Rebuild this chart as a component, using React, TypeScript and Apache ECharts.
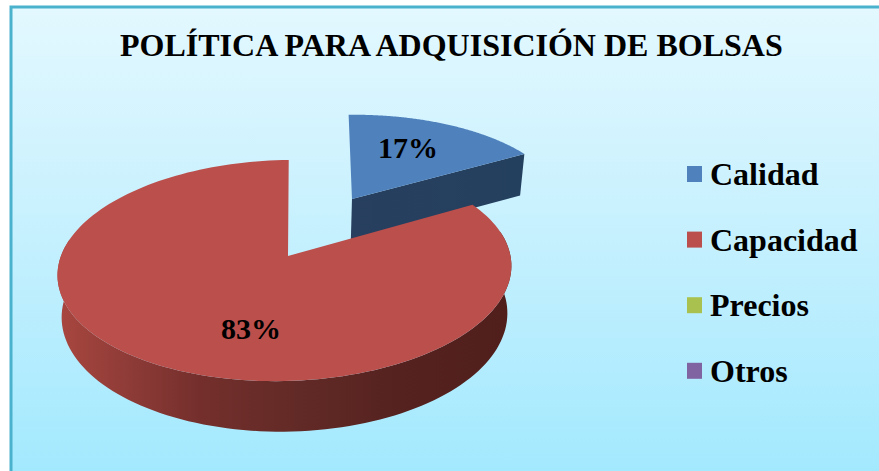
import React, { useEffect, useRef } from "react";
import * as echarts from "echarts";

const titleText = "POLÍTICA PARA ADQUISICIÓN DE BOLSAS";
const categories = ["Calidad", "Capacidad", "Precios", "Otros"];
const values = [17, 83, 0, 0];
const colors = ["#4f81bd", "#bb4f4b", "#a9c24f", "#8064a2"];

const FONT = '"Liberation Serif", serif';
const APEX_X = 288;
const APEX_Y = 256;
const R = 225;
const K = 0.4827;
const P = 0.131;
const DEPTH = 44;
const DEPTH_TILT = 0.012;
const TILT = 0.02;
const BOTTOM_X = 0.982;
const START_ANGLE = (1.1 * Math.PI) / 180;
const EXPLODE_X = [68.6, 0, 0, 0];
const EXPLODE_Y = [124, 0, 0, 0];
const ARC_SHIFT_X = [0, -3.5, 0, 0];
const LABEL_AT = [[408, 147], [251, 328], [0, 0], [0, 0]];

const total = values.reduce((a, b) => a + b, 0);

function project(wx: number, wy: number, bottom: boolean): [number, number] {
  const s = 1 / (1 + (P * wy) / R);
  const x = wx * s;
  const y = K * wy * s + TILT * x;
  const depth = bottom ? DEPTH * s + DEPTH_TILT * x : 0;
  return [APEX_X + x * (bottom ? BOTTOM_X : 1), APEX_Y - y + depth];
}

function pathOf(points: [number, number][]) {
  return points.map((p, i) => `${i ? "L" : "M"}${p[0].toFixed(2)} ${p[1].toFixed(2)}`).join(" ") + " Z";
}

function makeRenderItem(index: number) {
  return () => {
    const value = values[index];
    if (!value) return null as any;
    const before = values.slice(0, index).reduce((a, b) => a + b, 0);
    const a0 = START_ANGLE + (before / total) * Math.PI * 2;
    const a1 = START_ANGLE + ((before + value) / total) * Math.PI * 2;
    const ox = EXPLODE_X[index];
    const oy = EXPLODE_Y[index];
    const shift = ARC_SHIFT_X[index];
    const steps = 160;
    const angleAt = (i: number) => a0 + ((a1 - a0) * i) / steps;
    const arcPoint = (a: number, bottom: boolean) =>
      project(ox + shift + R * Math.sin(a), oy + R * Math.cos(a), bottom);
    const topArc: [number, number][] = [];
    const frontTop: [number, number][] = [];
    const frontBot: [number, number][] = [];
    for (let i = 0; i <= steps; i++) {
      const a = angleAt(i);
      topArc.push(arcPoint(a, false));
      if (Math.cos(a) < 0.2) {
        frontTop.push(arcPoint(a, false));
        frontBot.push(arcPoint(a, true));
      }
    }
    const apexTop = project(ox, oy, false);
    const apexBot = project(ox, oy, true);
    const isBlue = index === 0;
    const wallFill = isBlue
      ? new echarts.graphic.LinearGradient(352, 0, 522, 0, [
          { offset: 0, color: "#283f5f" },
          { offset: 1, color: "#24405f" },
        ], true)
      : new echarts.graphic.LinearGradient(60, 0, 510, 0, [
          { offset: 0, color: "#a8463f" },
          { offset: 0.155, color: "#8e3b37" },
          { offset: 0.31, color: "#742f2c" },
          { offset: 0.53, color: "#622a26" },
          { offset: 0.75, color: "#55221f" },
          { offset: 1, color: "#501e1b" },
        ], true);
    const children: any[] = [];
    if (frontTop.length) {
      children.push({
        type: "path",
        shape: { pathData: pathOf([...frontTop, ...[...frontBot].reverse()]) },
        style: { fill: wallFill },
      });
    }
    if (isBlue) {
      children.push({
        type: "path",
        shape: {
          pathData: pathOf([apexTop, arcPoint(a1, false), arcPoint(a1, true), apexBot]),
        },
        style: { fill: wallFill },
      });
    }
    children.push({
      type: "path",
      shape: { pathData: pathOf([apexTop, ...topArc]) },
      style: { fill: colors[index] },
    });
    children.push({
      type: "text",
      x: LABEL_AT[index][0],
      y: LABEL_AT[index][1],
      style: {
        text: Math.round((value / total) * 100) + "%",
        fontFamily: FONT,
        fontWeight: "bold",
        fontSize: 30,
        fill: "#000",
        align: "center",
        verticalAlign: "middle",
      },
    });
    return { type: "group", children } as any;
  };
}

export default function App() {
  const ref = useRef<HTMLDivElement>(null);
  useEffect(() => {
    const chart = echarts.init(ref.current!, undefined, { renderer: "svg" });
    chart.setOption({
      animation: false,
      title: {
        text: titleText,
        left: 115,
        top: 24,
        textStyle: { fontFamily: FONT, fontWeight: "bold", fontSize: 32, color: "#000" },
      },
      legend: {
        orient: "vertical",
        left: 682,
        top: 153,
        itemWidth: 15,
        itemHeight: 16,
        itemGap: 33.6,
        selectedMode: false,
        icon: "rect",
        data: categories,
        textStyle: { fontFamily: FONT, fontWeight: "bold", fontSize: 32, color: "#000", padding: [0, 0, 0, 3] },
      },
      graphic: [
        {
          type: "rect",
          z: -10,
          silent: true,
          shape: { x: 11, y: 7, width: 900, height: 500 },
          style: {
            stroke: "#4bb2cd",
            lineWidth: 3,
            fill: new echarts.graphic.LinearGradient(0, 8, 0, 471, [
              { offset: 0, color: "#e3f8ff" },
              { offset: 0.5, color: "#c5f0fe" },
              { offset: 1, color: "#a3e9fe" },
            ], true),
          },
        },
      ],
      series: categories.map((name, i) => ({
        type: "custom",
        name,
        coordinateSystem: "none",
        data: [values[i]],
        color: colors[i],
        itemStyle: { color: colors[i] },
        renderItem: makeRenderItem(i),
      })),
    });
    return () => chart.dispose();
  }, []);
  return <div ref={ref} style={{ position: "absolute", left: 0, top: 0, width: 879, height: 471 }} />;
}
